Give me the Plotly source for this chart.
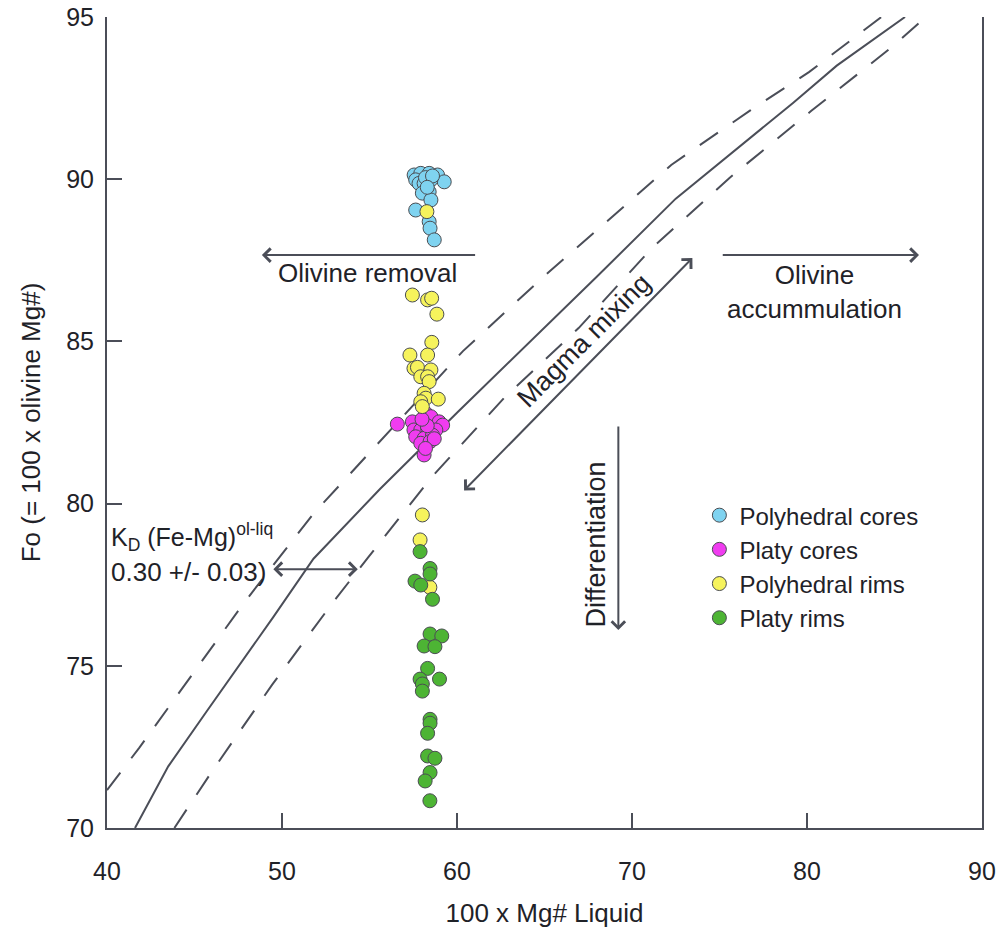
import plotly.graph_objects as go

# ---- data ----
kd_mid_x = [41.6, 43.5, 45.7, 49.5, 51.8, 55.6, 60.0, 64.0, 68.0, 72.5, 76.8, 79.2, 81.7, 85.6]
kd_mid_y = [70.0, 71.9, 73.6, 76.5, 78.3, 80.45, 82.8, 84.9, 87.0, 89.4, 91.3, 92.35, 93.5, 95.0]

kd_hi_x = [40.0, 41.84, 47.87, 51.78, 60.34, 65.0, 67.87, 72.24, 76.78, 80.11, 83.2, 84.25]
kd_hi_y = [71.17, 72.47, 76.97, 79.68, 84.70, 87.02, 88.37, 90.44, 92.13, 93.30, 94.57, 95.0]

kd_lo_x = [43.85, 45.98, 49.43, 52.93, 54.89, 58.51, 62.70, 66.95, 71.15, 75.57, 80.23, 84.94, 86.78]
kd_lo_y = [70.0, 71.73, 74.41, 76.97, 78.32, 80.79, 83.26, 85.41, 87.88, 90.04, 92.10, 94.11, 95.0]

poly_cores_x = [57.55, 57.93, 58.41, 58.89, 59.27, 57.64, 57.83, 58.12, 58.51, 58.41, 58.02, 58.51,
                57.64, 58.41, 58.46, 58.70, 58.2, 58.6, 58.3]
poly_cores_y = [90.13, 90.18, 90.18, 90.13, 89.92, 89.98, 89.87, 89.87, 89.98, 89.61, 89.57, 89.36,
                89.05, 88.69, 88.49, 88.13, 90.05, 90.1, 89.75]

platy_cores_x = [56.59, 57.45, 58.22, 58.51, 58.98, 59.18, 57.54, 57.93, 58.32, 58.79, 57.64, 58.12,
                 58.60, 57.93, 58.46, 58.12, 58.3, 58.0, 58.7, 58.2]
platy_cores_y = [82.45, 82.52, 82.78, 82.68, 82.52, 82.42, 82.27, 82.27, 82.32, 82.27, 82.06, 82.01,
                 82.11, 81.86, 81.91, 81.50, 82.4, 82.6, 82.0, 81.7]

poly_rims_x = [57.45, 58.32, 58.55, 58.85, 58.56, 57.31, 58.32, 57.54, 57.74, 57.93, 58.51, 58.32,
               58.41, 58.12, 58.22, 58.93, 57.93, 58.02, 58.28, 58.02, 57.89, 58.45]
poly_rims_y = [86.43, 86.28, 86.33, 85.84, 84.97, 84.58, 84.58, 84.17, 84.20, 83.91, 84.12, 83.91,
               83.76, 83.40, 83.25, 83.22, 83.14, 82.99, 89.0, 79.65, 78.88, 77.42]

platy_rims_x = [57.89, 58.46, 58.46, 57.60, 57.93, 58.60, 58.46, 59.13, 58.12, 58.74, 58.32, 57.89,
                59.00, 58.02, 58.02, 58.46, 58.46, 58.32, 58.32, 58.74, 58.46, 58.18, 58.45]
platy_rims_y = [78.52, 78.0, 77.83, 77.61, 77.49, 77.05, 75.98, 75.92, 75.61, 75.59, 74.92, 74.59,
                74.59, 74.44, 74.22, 73.35, 73.23, 72.92, 72.22, 72.15, 71.71, 71.45, 70.84]

x_ticks = [40, 50, 60, 70, 80, 90]
y_ticks = [70, 75, 80, 85, 90, 95]

# ---- styles ----
LINE = "#4b4e58"
TXT = "#1f2228"
FONT = "Liberation Sans, Arial, sans-serif"
EDGE = "#4a4d52"

fig = go.Figure()

fig.add_trace(go.Scatter(x=kd_hi_x, y=kd_hi_y, mode="lines", showlegend=False, hoverinfo="skip",
                         line=dict(color=LINE, width=2, dash="22px,18px")))
fig.add_trace(go.Scatter(x=kd_mid_x, y=kd_mid_y, mode="lines", showlegend=False, hoverinfo="skip",
                         line=dict(color=LINE, width=2)))
fig.add_trace(go.Scatter(x=kd_lo_x, y=kd_lo_y, mode="lines", showlegend=False, hoverinfo="skip",
                         line=dict(color=LINE, width=2, dash="22px,18px")))

series = [
    ("Polyhedral cores", poly_cores_x, poly_cores_y, "#7fd3f0"),
    ("Platy cores", platy_cores_x, platy_cores_y, "#f03cf0"),
    ("Polyhedral rims", poly_rims_x, poly_rims_y, "#f6f35c"),
    ("Platy rims", platy_rims_x, platy_rims_y, "#4db434"),
]
for name, xs, ys, col in series:
    fig.add_trace(go.Scatter(x=xs, y=ys, mode="markers", name=name, legendgroup=name,
                             marker=dict(size=14, color=col, line=dict(color=EDGE, width=1))))

def arrow(x0, y0, x1, y1, both=False):
    fig.add_annotation(x=x1, y=y1, ax=x0, ay=y0, xref="x", yref="y", axref="x", ayref="y",
                       text="", showarrow=True, arrowhead=4, arrowsize=1.3, arrowwidth=2,
                       arrowcolor=LINE, arrowside="end+start" if both else "end",
                       startarrowhead=4, startarrowsize=1.3)

def label(x, y, text, angle=0, xanchor="center", size=26):
    fig.add_annotation(x=x, y=y, xref="x", yref="y", text=text, showarrow=False,
                       textangle=angle, xanchor=xanchor, yanchor="middle",
                       font=dict(family=FONT, size=size, color=TXT))

arrow(61.12, 87.66, 48.85, 87.66)
arrow(75.10, 87.66, 86.40, 87.66)
arrow(60.32, 80.36, 73.45, 87.57, both=True)
arrow(69.22, 82.42, 69.22, 76.10)
arrow(49.42, 77.98, 54.33, 77.98, both=True)

label(54.9, 87.1, "Olivine removal")
label(80.41, 86.52, "Olivine<br>accummulation")
label(67.28, 85.04, "Magma mixing", angle=-45, size=27)
label(67.97, 78.75, "Differentiation", angle=-90, size=27)
label(40.1, 78.98, "K<sub>D</sub> (Fe-Mg)<sup>ol-liq</sup>", xanchor="left", size=25)
label(40.1, 77.9, "0.30 +/- 0.03)", xanchor="left")

fig.update_layout(
    width=1002, height=928,
    margin=dict(l=107, r=20, t=17, b=100),
    paper_bgcolor="white", plot_bgcolor="white",
    font=dict(family=FONT, size=26, color=TXT),
    legend=dict(x=0.677, y=0.413, xanchor="left", yanchor="top", bgcolor="rgba(0,0,0,0)",
                font=dict(family=FONT, size=24, color=TXT), tracegroupgap=0,
                itemsizing="trace"),
    showlegend=True,
)
fig.update_xaxes(range=[40, 90], tickvals=x_ticks, ticktext=[str(v) for v in x_ticks],
                 showgrid=False, zeroline=False, showline=True, linecolor=LINE, linewidth=2,
                 ticks="inside", ticklen=15, tickwidth=2, tickcolor=LINE, mirror=False,
                 ticklabelstandoff=20, automargin=False,
                 tickfont=dict(family=FONT, size=25, color=TXT),
                 title=dict(text="100 x Mg# Liquid", standoff=20,
                            font=dict(family=FONT, size=26, color=TXT)))
fig.update_yaxes(range=[70, 95], tickvals=y_ticks, ticktext=[str(v) for v in y_ticks],
                 showgrid=False, zeroline=False, showline=True, linecolor=LINE, linewidth=2,
                 ticks="inside", ticklen=15, tickwidth=2, tickcolor=LINE, mirror=True,
                 ticklabelstandoff=6, automargin=False,
                 tickfont=dict(family=FONT, size=25, color=TXT),
                 title=dict(text="Fo (= 100 x olivine Mg#)", standoff=18,
                            font=dict(family=FONT, size=26, color=TXT)))

fig.write_html("out.html")
